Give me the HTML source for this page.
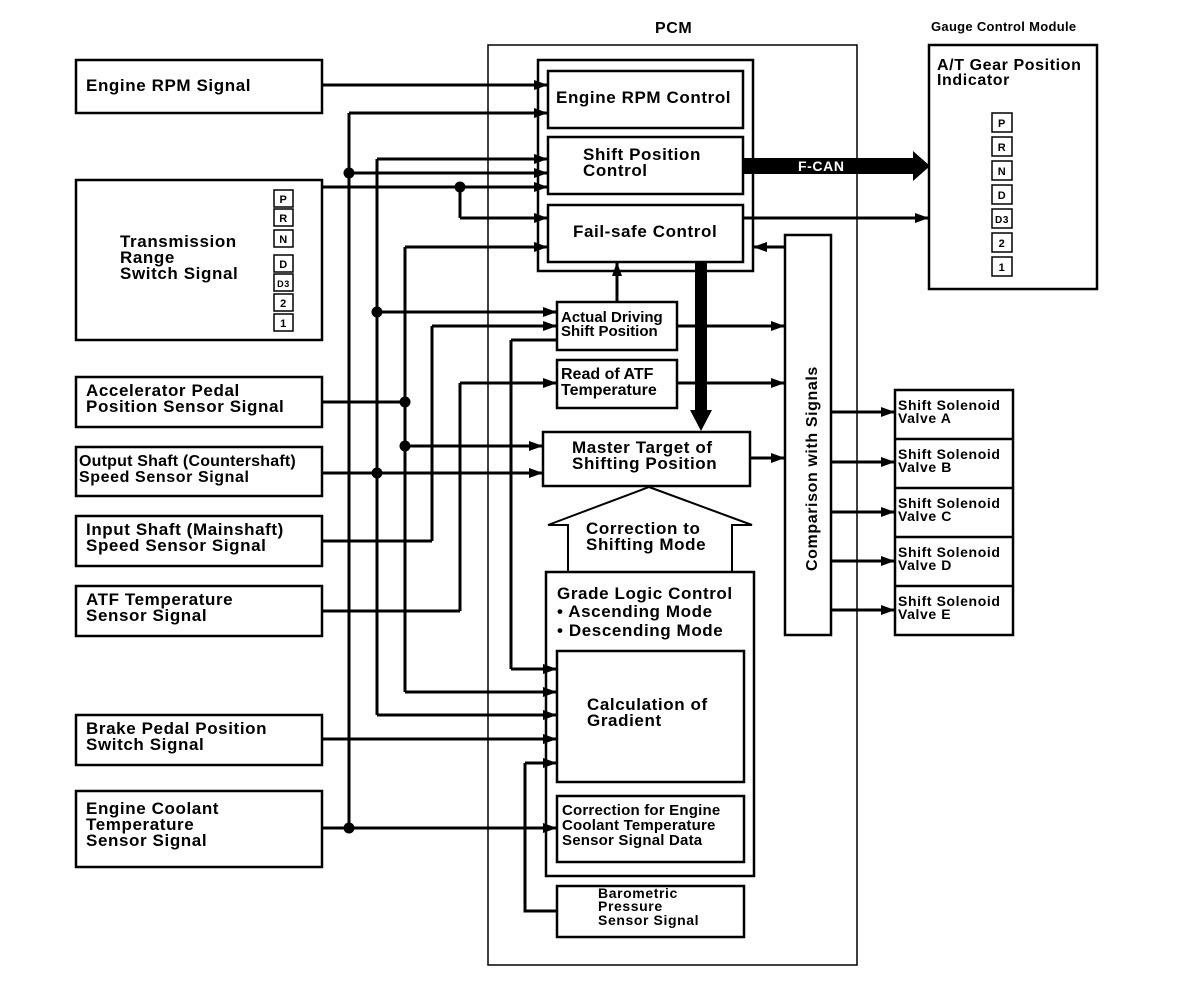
<!DOCTYPE html>
<html><head><style>body{margin:0;background:#fff}svg{display:block}text{font-family:"Liberation Sans",Arial,sans-serif;font-weight:bold;fill:#000;letter-spacing:0.6px}</style></head><body>
<svg width="1184" height="984" viewBox="0 0 1184 984" xmlns="http://www.w3.org/2000/svg">
<defs>
<marker id="a" viewBox="0 0 14 10" refX="14" refY="5" markerWidth="14" markerHeight="10" markerUnits="userSpaceOnUse" orient="auto"><path d="M0,0L14,5L0,10z"/></marker>
</defs>
<g fill="none" stroke="#000" stroke-width="2.5">
<rect x="76" y="60" width="246" height="53"/>
<rect x="76" y="180" width="246" height="160"/>
<rect x="76" y="377" width="246" height="50"/>
<rect x="76" y="447" width="246" height="49"/>
<rect x="76" y="516" width="246" height="50"/>
<rect x="76" y="586" width="246" height="50"/>
<rect x="76" y="715" width="246" height="50"/>
<rect x="76" y="791" width="246" height="76"/>
<rect x="488" y="45" width="369" height="920" stroke-width="1.5"/>
<rect x="538" y="60" width="215" height="211"/>
<rect x="548" y="71" width="195" height="57"/>
<rect x="548" y="137" width="195" height="57"/>
<rect x="548" y="205" width="195" height="57"/>
<rect x="557" y="302" width="120" height="48"/>
<rect x="557" y="360" width="120" height="48"/>
<rect x="543" y="432" width="207" height="54"/>
<rect x="546" y="572" width="208" height="304"/>
<rect x="557" y="651" width="187" height="131"/>
<rect x="557" y="796" width="187" height="66"/>
<rect x="557" y="886" width="187" height="51"/>
<rect x="785" y="235" width="46" height="400"/>
<path d="M568,571V525H548L649,487L752,525H732V571" stroke-width="2"/>
<rect x="929" y="45" width="168" height="244"/>
<rect x="895" y="390" width="118" height="245"/>
<path d="M895,439H1013M895,488H1013M895,537H1013M895,586H1013"/>
<path d="M349,113V828M377,159V715M405,247V692M432,326V541M460,383V611M511,340V669M460,187V218M525,763V911H557" stroke-width="3"/>
</g>
<g stroke="#000" stroke-width="3" fill="none" marker-end="url(#a)">
<path d="M322,85H548"/><path d="M349,113H548"/><path d="M377,159H548"/><path d="M349,173H548"/>
<path d="M322,187H548"/><path d="M460,218H548"/><path d="M405,247H548"/>
<path d="M377,312H557"/><path d="M432,326H557"/><path d="M460,383H557"/>
<path d="M405,446H543"/><path d="M322,473H543"/>
<path d="M511,669H557"/><path d="M405,692H557"/><path d="M377,715H557"/><path d="M322,739H557"/><path d="M525,763H557"/><path d="M322,828H557"/>
<path d="M617,302V262"/>
<path d="M677,326H785"/><path d="M677,383H785"/><path d="M750,458H785"/>
<path d="M743,218H929"/><path d="M785,247H753"/>
<path d="M831,412H895"/><path d="M831,462H895"/><path d="M831,512H895"/><path d="M831,561H895"/><path d="M831,610H895"/>
</g>
<g stroke="#000" stroke-width="3"><path d="M511,340H557M322,402H405M322,541H432M322,611H460"/></g>
<g fill="#000">
<circle cx="349" cy="173" r="5.5"/><circle cx="460" cy="187" r="5.5"/><circle cx="377" cy="312" r="5.5"/>
<circle cx="405" cy="402" r="5.5"/><circle cx="405" cy="446" r="5.5"/><circle cx="377" cy="473" r="5.5"/><circle cx="349" cy="828" r="5.5"/>
<path d="M695,262H707V410H712L701,431L690,410H695Z"/>
<path d="M743,158H913V151L930,166L913,181V174H743Z"/>
</g>
<text x="798" y="171" font-size="14" style="fill:#fff">F-CAN</text>
<g font-size="17">
<text x="86" y="91">Engine RPM Signal</text>
<text x="120" y="247">Transmission</text><text x="120" y="263">Range</text><text x="120" y="279">Switch Signal</text>
<text x="86" y="396">Accelerator Pedal</text><text x="86" y="412">Position Sensor Signal</text>
<text x="79" y="466" font-size="16" style="letter-spacing:0.2px">Output Shaft (Countershaft)</text><text x="79" y="482" font-size="16">Speed Sensor Signal</text>
<text x="86" y="535">Input Shaft (Mainshaft)</text><text x="86" y="551">Speed Sensor Signal</text>
<text x="86" y="605">ATF Temperature</text><text x="86" y="621">Sensor Signal</text>
<text x="86" y="734">Brake Pedal Position</text><text x="86" y="750">Switch Signal</text>
<text x="86" y="814">Engine Coolant</text><text x="86" y="830">Temperature</text><text x="86" y="846">Sensor Signal</text>
<text x="655" y="33" font-size="16">PCM</text>
<text x="556" y="103">Engine RPM Control</text>
<text x="583" y="160">Shift Position</text><text x="583" y="176">Control</text>
<text x="573" y="237">Fail-safe Control</text>
<text x="561" y="322" font-size="15" style="letter-spacing:0">Actual Driving</text><text x="561" y="336" font-size="15" style="letter-spacing:0">Shift Position</text>
<text x="561" y="379" font-size="16" style="letter-spacing:0">Read of ATF</text><text x="561" y="395" font-size="16" style="letter-spacing:0">Temperature</text>
<text x="572" y="453">Master Target of</text><text x="572" y="469">Shifting Position</text>
<text x="586" y="534">Correction to</text><text x="586" y="550">Shifting Mode</text>
<text x="557" y="599">Grade Logic Control</text><text x="557" y="617">• Ascending Mode</text><text x="557" y="636">• Descending Mode</text>
<text x="587" y="710">Calculation of</text><text x="587" y="726">Gradient</text>
<text x="562" y="815" font-size="15" style="letter-spacing:0.2px">Correction for Engine</text><text x="562" y="830" font-size="15" style="letter-spacing:0.2px">Coolant Temperature</text><text x="562" y="845" font-size="15" style="letter-spacing:0.2px">Sensor Signal Data</text>
<text x="598" y="898" font-size="14">Barometric</text><text x="598" y="911" font-size="14">Pressure</text><text x="598" y="925" font-size="14">Sensor Signal</text>
<text x="937" y="70" font-size="16">A/T Gear Position</text><text x="937" y="85" font-size="16">Indicator</text>
<text x="931" y="31" font-size="13" style="letter-spacing:0.3px">Gauge Control Module</text>
<text transform="translate(817,571) rotate(-90)" font-size="16">Comparison with Signals</text>
<g font-size="14" style="letter-spacing:0.3px"><text x="898" y="410">Shift Solenoid</text><text x="898" y="423">Valve A</text>
<text x="898" y="459">Shift Solenoid</text><text x="898" y="472">Valve B</text>
<text x="898" y="508">Shift Solenoid</text><text x="898" y="521">Valve C</text>
<text x="898" y="557">Shift Solenoid</text><text x="898" y="570">Valve D</text>
<text x="898" y="606">Shift Solenoid</text><text x="898" y="619">Valve E</text></g>
</g>
<g fill="none" stroke="#000" stroke-width="1.5">
<rect x="274" y="190" width="19" height="17"/><rect x="274" y="209" width="19" height="17"/><rect x="274" y="230" width="19" height="17"/>
<rect x="274" y="255" width="19" height="17"/><rect x="274" y="274" width="19" height="17"/><rect x="274" y="294" width="19" height="17"/><rect x="274" y="314" width="19" height="17"/>
<rect x="992" y="113" width="20" height="19"/><rect x="992" y="137" width="20" height="19"/><rect x="992" y="161" width="20" height="19"/><rect x="992" y="185" width="20" height="19"/><rect x="992" y="209" width="20" height="19"/><rect x="992" y="233" width="20" height="19"/><rect x="992" y="257" width="20" height="19"/>
</g>
<g font-size="11" text-anchor="middle" style="letter-spacing:0">
<text x="283.5" y="203">P</text><text x="283.5" y="222">R</text><text x="283.5" y="243">N</text><text x="283.5" y="268">D</text><text x="283.5" y="287" font-size="9">D3</text><text x="283.5" y="307">2</text><text x="283.5" y="327">1</text>
<text x="1002" y="127">P</text><text x="1002" y="151">R</text><text x="1002" y="175">N</text><text x="1002" y="199">D</text><text x="1002" y="223" font-size="10">D3</text><text x="1002" y="247">2</text><text x="1002" y="271">1</text>
</g>
</svg>
</body></html>
